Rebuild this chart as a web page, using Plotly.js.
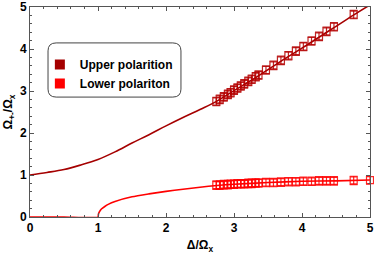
<!DOCTYPE html>
<html><head><meta charset="utf-8">
<script src="https://cdn.plot.ly/plotly-3.0.1.min.js"></script>
<style>html,body{margin:0;padding:0;background:#fff}#plot{width:374px;height:255px}</style>
</head><body><div id="plot"></div>
<script>
// Theory curves
const upperCurveX = [0,0.25,0.5,0.75,1,1.25,1.5,1.75,2,2.25,2.5,2.75,3,3.25,3.5,3.75,4,4.25,4.5,4.75,5];
const upperCurveY = [1.00,1.06,1.13,1.24,1.37,1.55,1.76,1.96,2.17,2.37,2.56,2.76,3.01,3.25,3.51,3.77,4.02,4.28,4.54,4.80,5.05];
const lowerCurveX = [0,0.5,1,1.005,1.02,1.05,1.1,1.15,1.25,1.5,1.75,2,2.25,2.5,2.75,3,3.5,4,4.5,5];
const lowerCurveY = [0,0,0,0.06,0.12,0.19,0.25,0.30,0.37,0.48,0.55,0.61,0.66,0.71,0.75,0.78,0.82,0.85,0.86,0.88];
// Measured points
const upperPtsX = [2.74,2.79,2.85,2.91,2.95,3.0,3.05,3.1,3.15,3.21,3.26,3.32,3.36,3.47,3.58,3.69,3.80,3.91,4.02,4.14,4.25,4.36,4.47,4.76];
const upperPtsY = [2.75,2.80,2.86,2.92,2.96,3.02,3.07,3.12,3.17,3.23,3.28,3.34,3.38,3.50,3.61,3.73,3.84,3.95,4.06,4.19,4.30,4.42,4.53,4.82];
const lowerPtsX = [2.74,2.79,2.85,2.91,2.95,3.0,3.05,3.1,3.15,3.21,3.26,3.32,3.36,3.47,3.58,3.69,3.80,3.91,4.02,4.14,4.25,4.36,4.47,4.76,5.0];
const lowerPtsY = [0.76,0.76,0.77,0.77,0.78,0.78,0.79,0.79,0.79,0.80,0.80,0.81,0.81,0.82,0.82,0.83,0.84,0.84,0.85,0.85,0.86,0.86,0.86,0.87,0.88];
const seriesNames = ['Upper polarition','Lower polariton'];
const tickVals = [0,1,2,3,4,5];

const cUp = 'rgb(165,0,0)', cLo = 'rgb(255,0,0)';
const font = {family:'Liberation Sans, Arial, sans-serif', size:12, color:'#000', weight:'bold'};

const traces = [
  {x:upperCurveX, y:upperCurveY, mode:'lines', line:{color:cUp, width:1.6, shape:'spline'}, showlegend:false, hoverinfo:'skip'},
  {x:lowerCurveX, y:lowerCurveY, mode:'lines', line:{color:cLo, width:1.6, shape:'spline', smoothing:0.6}, showlegend:false, hoverinfo:'skip'},
  {x:upperPtsX, y:upperPtsY, mode:'markers', marker:{symbol:'square-open', size:7, color:'rgba(180,0,0,0.85)', line:{width:1.2}},
   error_y:{type:'constant', value:0.1, width:4, thickness:1.2, color:'rgba(180,0,0,0.85)'}, showlegend:false, cliponaxis:false},
  {x:lowerPtsX, y:lowerPtsY, mode:'markers', marker:{symbol:'square-open', size:7, color:'rgba(255,0,0,0.85)', line:{width:1.2}},
   error_y:{type:'constant', value:0.1, width:4, thickness:1.2, color:'rgba(255,0,0,0.85)'}, showlegend:false, cliponaxis:false},
  {x:[null], y:[null], mode:'markers', name:seriesNames[0], marker:{symbol:'square', size:10, color:cUp}},
  {x:[null], y:[null], mode:'markers', name:seriesNames[1], marker:{symbol:'square', size:10, color:cLo}}
];

const axisCommon = {
  showgrid:false, zeroline:false, showline:true, linecolor:'#555', linewidth:1, mirror:'allticks',
  ticks:'inside', ticklen:4, tickcolor:'#555', tickwidth:1, tickfont:font,
  tickvals:tickVals, minor:{dtick:0.2, ticks:'inside', ticklen:2, tickcolor:'#555', tickwidth:1, showgrid:false}
};

const layout = {
  width:374, height:255, margin:{l:30, r:4, t:7, b:38},
  paper_bgcolor:'#fff', plot_bgcolor:'#fff', font:font,
  xaxis:Object.assign({}, axisCommon, {range:[0,5], title:{text:'Δ/Ω<sub>x</sub>', font:font, standoff:6}}),
  yaxis:Object.assign({}, axisCommon, {range:[0,5], title:{text:'Ω<sub>+-</sub>/Ω<sub>x</sub>', font:font, standoff:4}}),
  legend:{x:0.029, xanchor:'left', y:0.795, yanchor:'top', bgcolor:'rgba(0,0,0,0)', borderwidth:0, font:font, tracegroupgap:0},
  shapes:[{type:'path', xref:'paper', yref:'paper',
    path:'M 0.077 0.829 L 0.420 0.829 Q 0.444 0.829 0.444 0.791 L 0.444 0.609 Q 0.444 0.571 0.420 0.571 L 0.077 0.571 Q 0.053 0.571 0.053 0.609 L 0.053 0.791 Q 0.053 0.829 0.077 0.829 Z',
    line:{color:'#444', width:1}, fillcolor:'rgba(255,255,255,1)', layer:'above'}]
};
Plotly.newPlot('plot', traces, layout, {staticPlot:true, displayModeBar:false});
</script></body></html>
